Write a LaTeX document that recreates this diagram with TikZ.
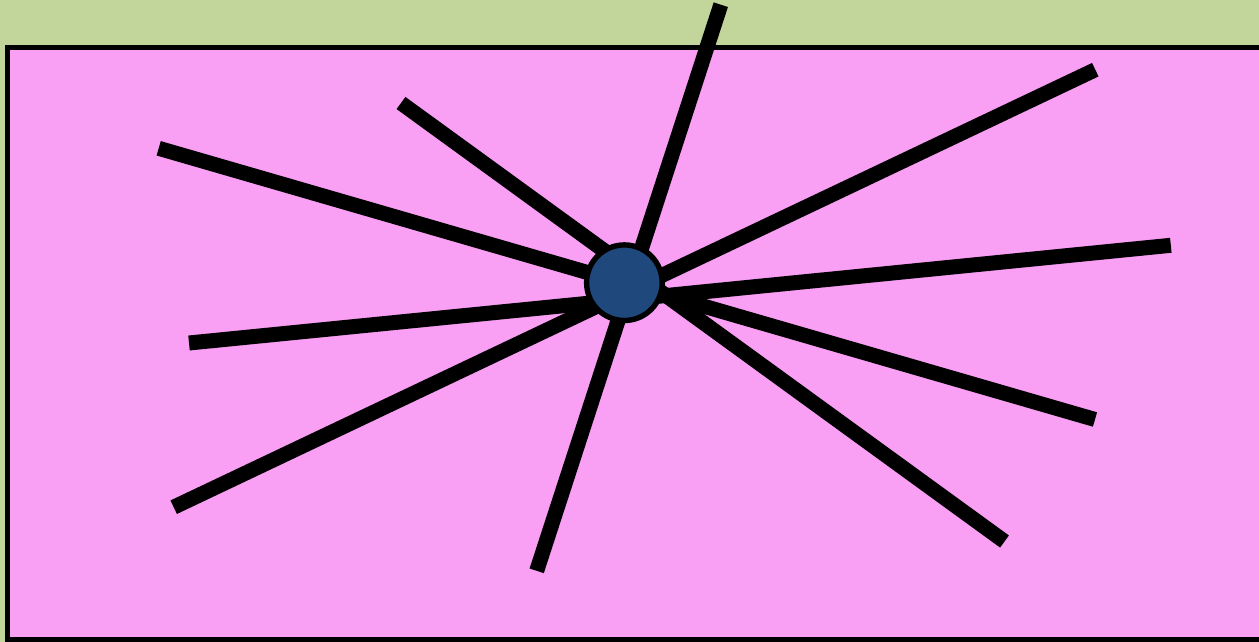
\documentclass[tikz,border=0pt]{standalone}
\definecolor{bggreen}{RGB}{194,214,155}
\definecolor{panelpink}{RGB}{249,160,245}
\definecolor{hubblue}{RGB}{31,73,125}
\tikzset{
  bar/.style={line width=15pt, black, line cap=butt},
  panel/.style={fill=panelpink, draw=black, line width=5pt},
  hub/.style={circle, fill=hubblue, draw=black, line width=5.4pt, minimum size=75.6pt, inner sep=0pt}
}
\begin{document}
\begin{tikzpicture}[x=1pt,y=-1pt]
\useasboundingbox (0,0) rectangle (1259,642);
\fill[bggreen] (0,0) rectangle (1259,642);
\draw[panel] (7.5,47.5) rectangle (1270,639.5);
\coordinate (a1) at (720.8,4.7);   \coordinate (b1) at (536.7,570.8);
\coordinate (a2) at (1095.3,69.7); \coordinate (b2) at (173.7,507.2);
\coordinate (a3) at (1170.8,245.3);\coordinate (b3) at (189,343);
\coordinate (a4) at (1095,419.5);  \coordinate (b4) at (158.7,148.3);
\coordinate (a5) at (1004.5,541.5);\coordinate (b5) at (401,103);
\foreach \i in {1,...,5} \draw[bar] (a\i) -- (b\i);
\node[hub] (h) at (624.4,282.7) {};
\end{tikzpicture}
\end{document}
